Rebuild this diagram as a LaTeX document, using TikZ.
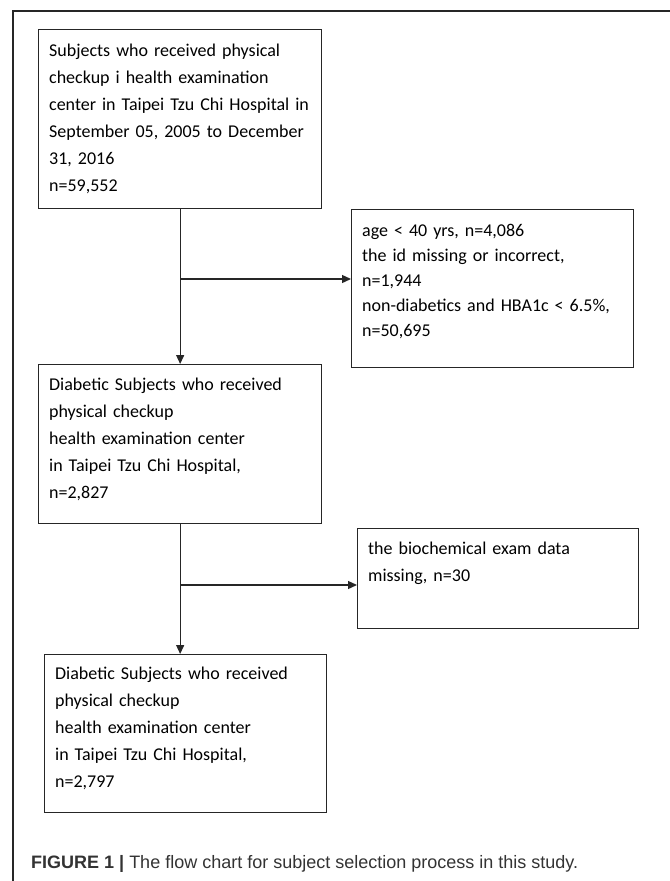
\documentclass[tikz,border=0pt]{standalone}
\usepackage{fontspec}
\setmainfont{Carlito}
\newfontfamily\capfont{Liberation Sans}
\usetikzlibrary{arrows.meta}

\begin{document}
\begin{tikzpicture}[
  x=1bp, y=-1bp,
  every node/.style={font=\fontsize{18bp}{27bp}\selectfont},
  flowbox/.style={draw=black!85, line width=1.3bp, anchor=north west, align=left,
    inner xsep=10.5bp, inner ysep=0pt, text height=26bp},
  flowline/.style={draw=black!85, line width=1.3bp},
  flowarrow/.style={flowline, -{Triangle[length=9bp,width=8bp]}}
]
\useasboundingbox (0,0) rectangle (670,881);
\draw[flowline] (670,11) -- (13,11) -- (13,881);

\node[flowbox, text width=262bp, text height=27bp, text depth=152bp] (start) at (38,29)
  {Subjects who received physical\\
   checkup i health examination\\
   center in Taipei Tzu Chi Hospital in\\
   September 05, 2005 to December\\
   31, 2016\\
   n=59,552};
\node[flowbox, text width=261bp, text height=27bp, text depth=131bp,
  font=\fontsize{18bp}{25bp}\selectfont] (excl1) at (351,209)
  {age < 40 yrs, n=4,086\\
   the id missing or incorrect,\\
   n=1,944\\
   non-diabetics and HBA1c < 6.5\%,\\
   n=50,695};
\node[flowbox, text width=262bp, text depth=133bp] (diab) at (38,364)
  {Diabetic Subjects who received\\
   physical checkup\\
   health examination center\\
   in Taipei Tzu Chi Hospital,\\
   n=2,827};
\node[flowbox, text width=260bp, text depth=74bp] (excl2) at (357,528)
  {the biochemical exam data\\
   missing, n=30};
\node[flowbox, text width=261bp, text height=25bp, text depth=133bp] (final) at (44,654)
  {Diabetic Subjects who received\\
   physical checkup\\
   health examination center\\
   in Taipei Tzu Chi Hospital,\\
   n=2,797};

\coordinate (split1) at (start.south |- 0,279);
\coordinate (split2) at (diab.south |- 0,585);
\draw[flowarrow] (start.south) -- (diab.north);
\draw[flowarrow] (split1) -- (split1 -| excl1.west);
\draw[flowarrow] (diab.south) -- (diab.south |- final.north);
\draw[flowarrow] (split2) -- (split2 -| excl2.west);

\node[anchor=base west, inner sep=0pt, text=black!80,
  font=\capfont\fontsize{18bp}{20bp}\selectfont] (caption) at (31,868)
  {\textbf{FIGURE 1 |} The flow chart for subject selection process in this study.};
\end{tikzpicture}
\end{document}
